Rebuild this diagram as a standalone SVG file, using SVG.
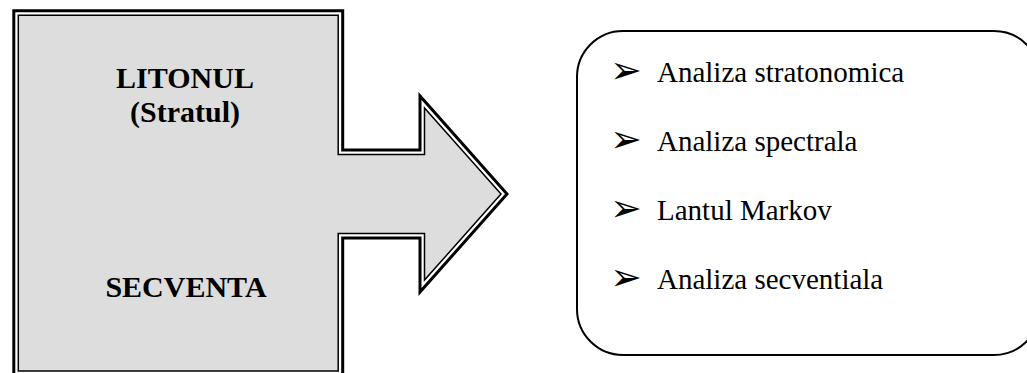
<svg xmlns="http://www.w3.org/2000/svg" width="1027" height="373" viewBox="0 0 1027 373">
<style>
.outer{fill:#ffffff;stroke:#000;stroke-width:3;stroke-linejoin:miter}
.inner{fill:#dddddd;stroke:#000;stroke-width:1.5;stroke-linejoin:miter}
.bold{font-family:"Liberation Serif","Times New Roman",serif;font-weight:bold;font-size:30px;fill:#000;text-anchor:middle}
.item{font-family:"Liberation Serif","Times New Roman",serif;font-size:29px;fill:#000}
.bul{font-family:"DejaVu Sans",sans-serif;font-size:38px;fill:#000}
.panel{fill:#fff;stroke:#000;stroke-width:2}
</style>
<rect width="1027" height="373" fill="#fff"/>
<g id="litonul-arrow">
<path class="outer" d="M13.8,10.8 H342.7 V150 H420 V96 L507,194 L420,292 V238 H342.7 V376 H13.8 Z"/>
<path class="inner" d="M18.3,15.3 H338.2 V154.5 H424.5 V107.9 L501,194 L424.5,280.1 V233.5 H338.2 V371 H18.3 Z"/>
<text class="bold" x="185" y="88">LITONUL</text>
<text class="bold" x="185" y="122">(Stratul)</text>
<text class="bold" x="186" y="297">SECVENTA</text>
</g>
<g id="methods">
<rect class="panel" x="577" y="31" width="463" height="324" rx="46" ry="46"/>
<text class="bul" x="610" y="83">➢</text>
<text class="item" x="657" y="82">Analiza stratonomica</text>
<text class="bul" x="610" y="152">➢</text>
<text class="item" x="657" y="151">Analiza spectrala</text>
<text class="bul" x="610" y="221">➢</text>
<text class="item" x="657" y="220">Lantul Markov</text>
<text class="bul" x="610" y="290">➢</text>
<text class="item" x="657" y="289">Analiza secventiala</text>
</g>
<g id="connectors"></g>
</svg>
